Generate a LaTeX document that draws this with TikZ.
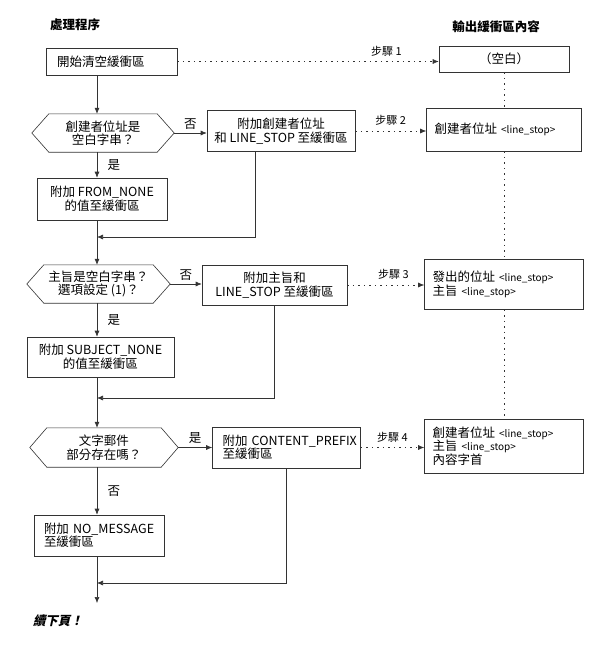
\documentclass[tikz,border=0pt]{standalone}
\usepackage{fontspec}
\setmainfont{Noto Sans CJK TC}
\newfontfamily\contfont[FakeSlant=0.22]{Noto Sans CJK TC}
\usepackage{tikz}
\usetikzlibrary{arrows.meta}
\definecolor{linec}{HTML}{333333}
\newcommand\lstop{{\fontsize{10}{11}\selectfont<line\_stop>}}

\begin{document}
\begin{tikzpicture}[x=1pt, y=-1pt, every node/.style={font=\fontsize{12.5}{13.5}\selectfont},
    box/.style={draw=linec, line width=0.6pt, inner xsep=6pt, inner ysep=2pt, align=center},
    outbox/.style={box, inner xsep=8pt, align=left},
    decision/.style={inner sep=0pt, align=center},
    flow/.style={draw=linec, line width=0.6pt, -{Latex[length=6pt,width=5pt]}},
    guide/.style={draw=linec, line width=0.6pt, dash pattern=on 1.5pt off 4pt},
    stepline/.style={guide, -{Latex[length=6pt,width=5pt]}},
    steplabel/.style={above=2pt, font=\fontsize{11}{12}\selectfont},
    title/.style={font=\fontsize{12.5}{13}\selectfont\bfseries}]
    \useasboundingbox (0,0) rectangle (601,657);
    \coordinate (spine) at (97,0);
    \node[title] (proc) at (75,25) {處理程序};
    \node[title] (outt) at (496,27) {輸出緩衝區內容};
    \node[box, inner xsep=11pt, text width=109pt, minimum height=27pt, align=left] (start) at (111.5,61.5) {開始清空緩衝區};
    \node[outbox, text width=114pt, minimum height=26pt, align=center] (out1) at (504,59) {（空白）};
    \node[decision, minimum width=142pt, minimum height=38pt] (q1) at (103,133) {創建者位址是\\空白字串？};
    \node[box, minimum width=148pt, minimum height=41pt] (add2) at (281,131) {附加創建者位址\\和 LINE\_STOP 至緩衝區};
    \node[outbox, text width=139pt, minimum height=43pt] (out2) at (504,129.5) {創建者位址 \lstop};
    \node[box, minimum width=130pt, minimum height=42pt] (from) at (102,199) {附加 FROM\_NONE\\的值至緩衝區};
    \node[decision, minimum width=143pt, minimum height=38pt] (q2) at (98.5,284) {主旨是空白字串？\\選項設定 (1)？};
    \node[box, minimum width=145pt, minimum height=40pt] (add3) at (274.5,285) {附加主旨和\\LINE\_STOP 至緩衝區};
    \node[outbox, text width=143pt, minimum height=50pt] (out3) at (504,284.5) {發出的位址 \lstop\\主旨 \lstop};
    \node[box, minimum width=147pt, minimum height=40pt] (subj) at (100.5,357) {附加 SUBJECT\_NONE\\的值至緩衝區};
    \node[decision, minimum width=148pt, minimum height=39pt] (q3) at (104,447.5) {文字郵件\\部分存在嗎？};
    \node[box, inner xsep=10pt, text width=128pt, minimum height=41pt, align=left] (add4) at (286.5,447.5) {附加~\mbox{CONTENT\_PREFIX}\\至緩衝區};
    \node[outbox, text width=143pt, minimum height=54pt] (out4) at (504,446) {創建者位址 \lstop\\主旨 \lstop\\內容字首};
    \node[box, inner xsep=10pt, text width=110pt, minimum height=41pt, align=left] (nomsg) at (99,535.5) {附加~\mbox{NO\_MESSAGE}\\至緩衝區};
    \node[font=\fontsize{12.5}{13}\contfont\bfseries] (cont) at (58,621) {續下頁！};
    \coordinate (j1) at (97,237);
    \coordinate (j2) at (97,398);
    \coordinate (j3) at (97,583);
    \coordinate (endp) at (97,603);
    \foreach \q in {q1,q2,q3}
      \draw[draw=linec, line width=0.6pt] (\q.west) -- ([xshift=17pt]\q.north west) -- ([xshift=-17pt]\q.north east)
        -- (\q.east) -- ([xshift=-17pt]\q.south east) -- ([xshift=17pt]\q.south west) -- cycle;
    \draw[flow] (start.south -| spine) -- (q1.north -| spine);
    \draw[flow] (q1.east) -- node[above] {否} (q1.east -| add2.west);
    \draw[flow] (q1.south -| spine) -- node[right=7pt] {是} (from.north -| spine);
    \draw[flow] ([xshift=-26pt]add2.south) |- (j1);
    \draw[flow] (from.south -| spine) -- (q2.north -| spine);
    \draw[flow] (q2.east) -- node[above] {否} (q2.east -| add3.west);
    \draw[flow] (q2.south -| spine) -- node[right=7pt] {是} (subj.north -| spine);
    \draw[flow] (add3.south) |- (j2);
    \draw[flow] (subj.south -| spine) -- (q3.north -| spine);
    \draw[flow] (q3.east) -- node[above] {是} (q3.east -| add4.west);
    \draw[flow] (q3.south -| spine) -- node[right=7pt] {否} (nomsg.north -| spine);
    \draw[flow] (add4.south) |- (j3);
    \draw[flow] (nomsg.south -| spine) -- (endp);
    \draw[stepline] (start.east) -- node[steplabel, pos=0.8] {步驟 1} (start.east -| out1.west);
    \draw[stepline] (add2.east) -- node[steplabel] {步驟 2} (add2.east -| out2.west);
    \draw[stepline] (add3.east) -- node[steplabel, pos=0.6] {步驟 3} (add3.east -| out3.west);
    \draw[stepline] (add4.east) -- node[steplabel] {步驟 4} (add4.east -| out4.west);
    \draw[guide] (out1.south) -- (out2.north);
    \draw[guide] (out2.south) -- (out3.north);
    \draw[guide] (out3.south) -- (out4.north);
  \end{tikzpicture}
\end{document}
